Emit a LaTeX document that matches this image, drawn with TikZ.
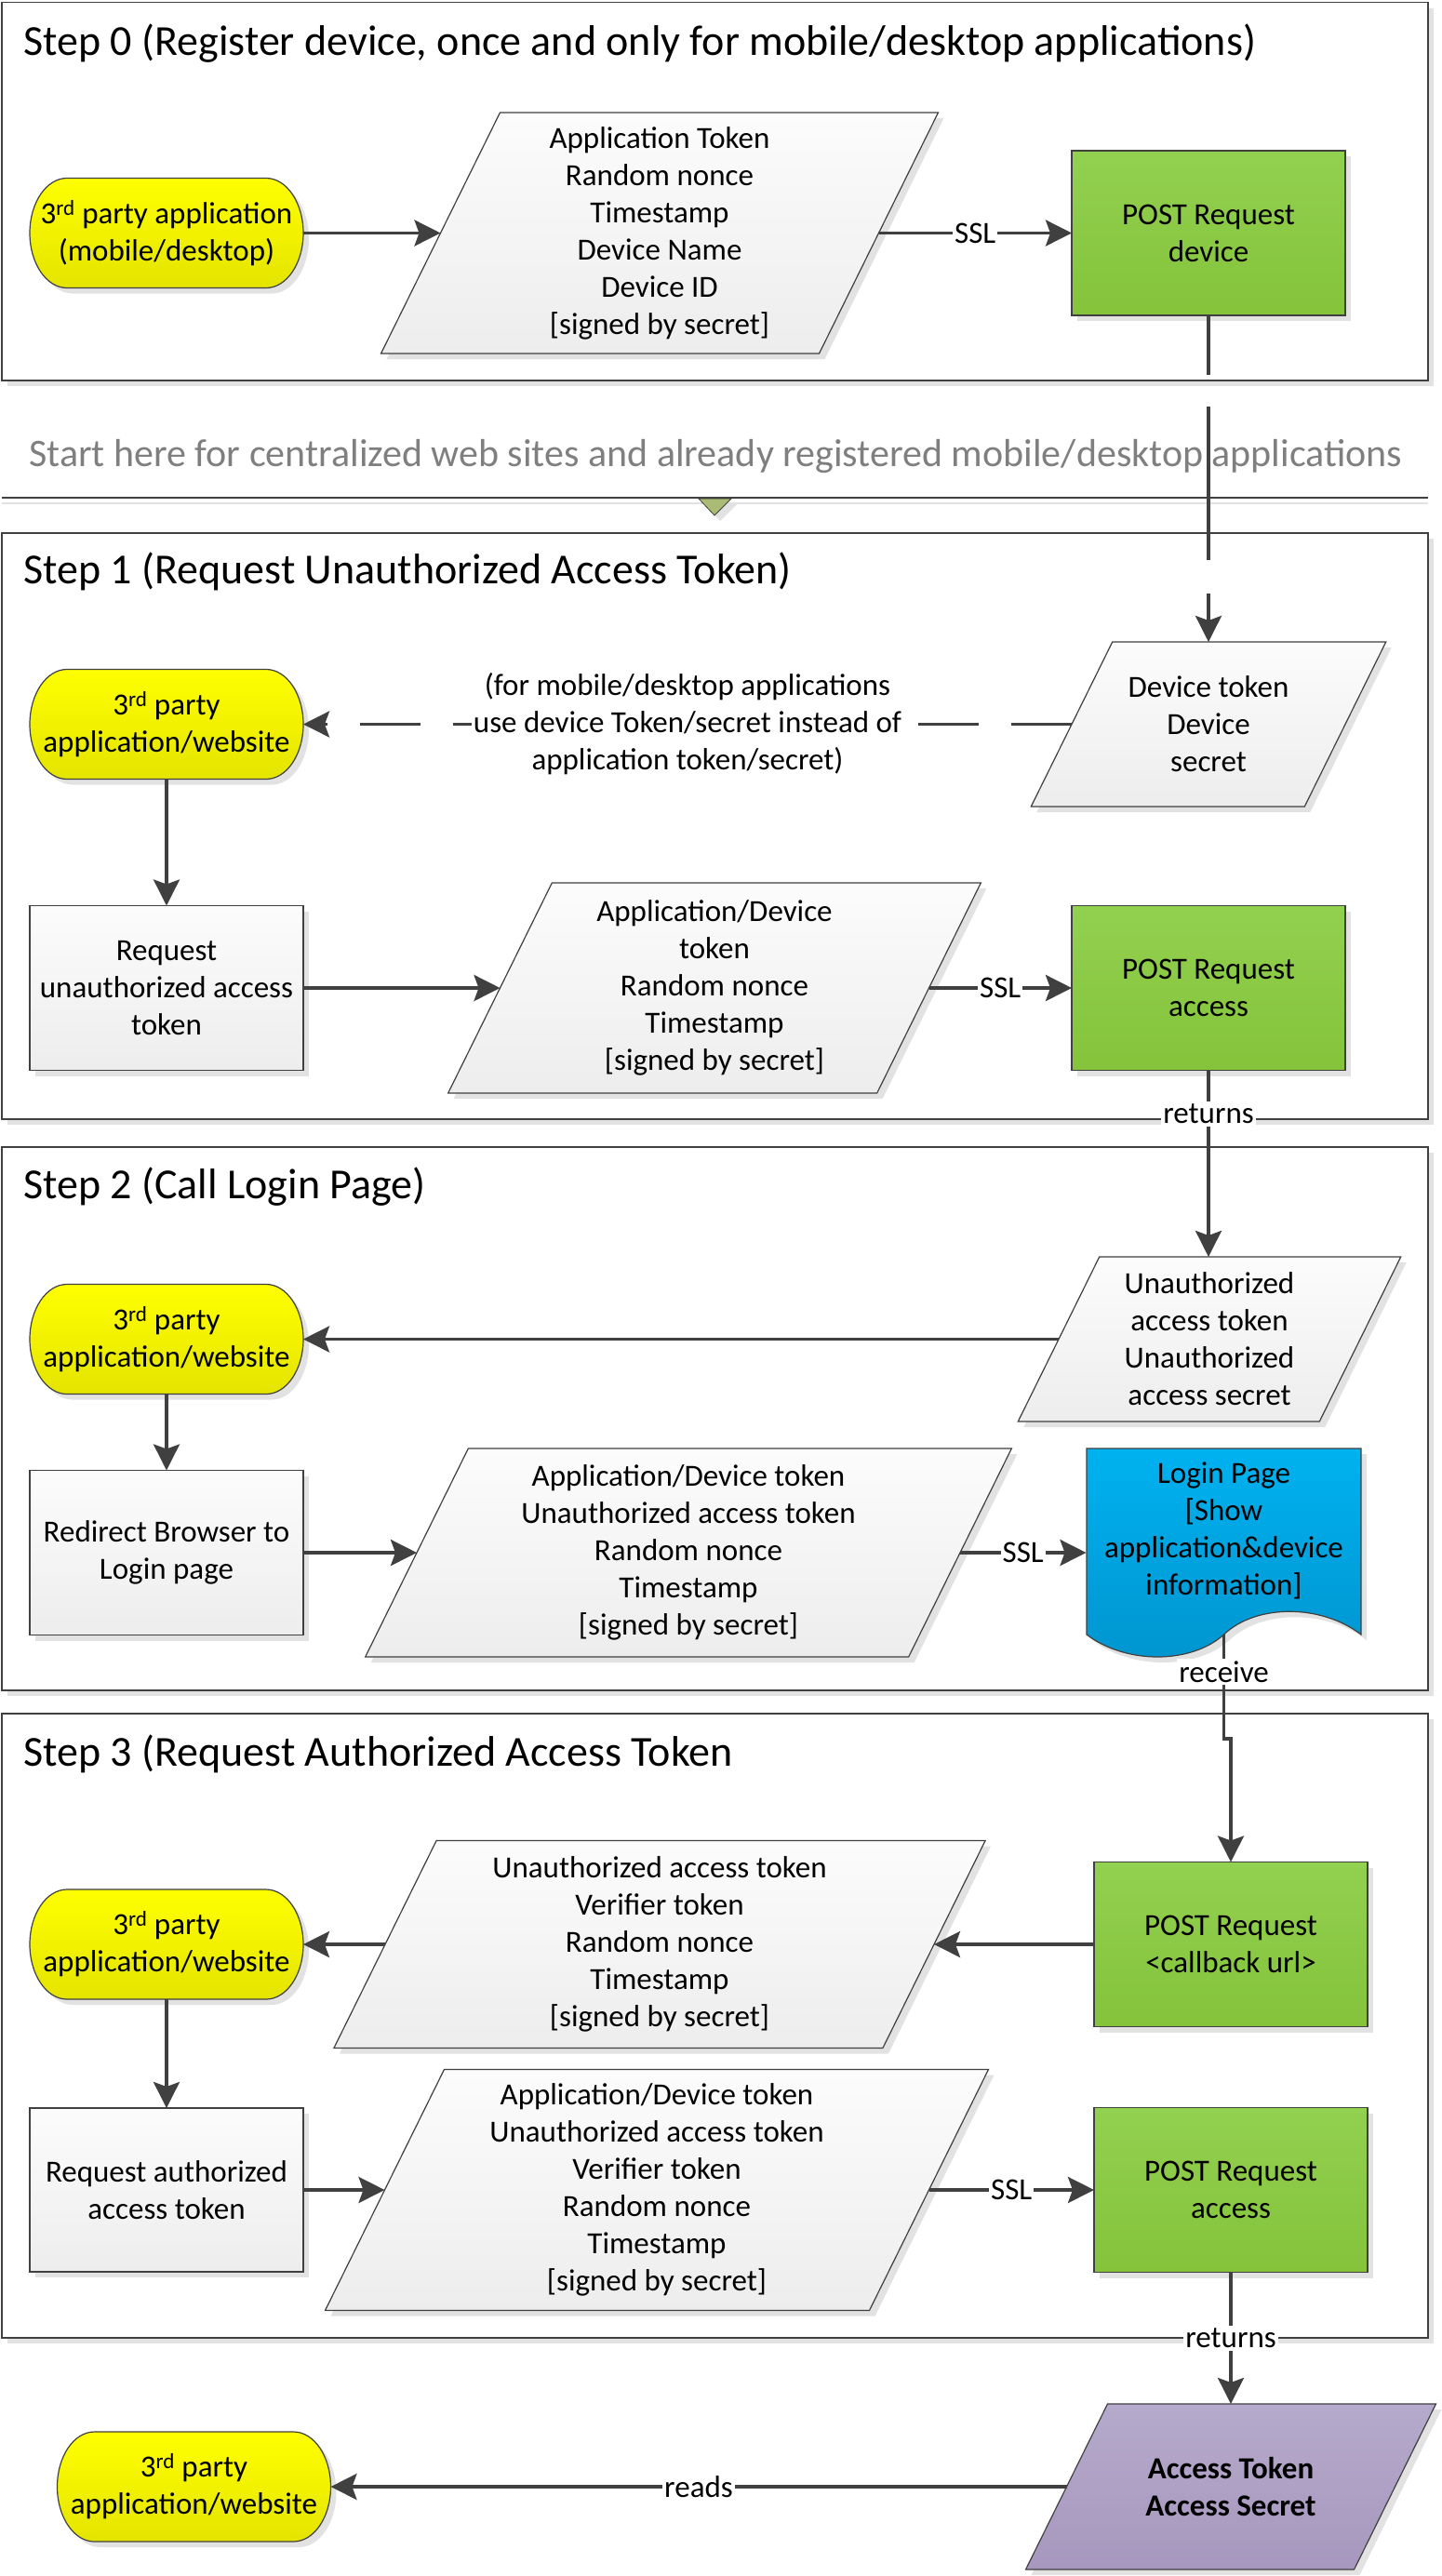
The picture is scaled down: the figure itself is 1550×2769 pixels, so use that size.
\documentclass[tikz,border=0pt]{standalone}
\usepackage{fontspec}
\setmainfont{Carlito}
\usetikzlibrary{arrows.meta, shadows}

\definecolor{linegray}{HTML}{404040}
\definecolor{shadowgray}{HTML}{E2E2E2}
\definecolor{textgray}{HTML}{7F7F7F}
\definecolor{boxtop}{HTML}{FCFCFC}
\definecolor{boxbot}{HTML}{EDEDED}
\definecolor{yeltop}{HTML}{FFFF00}
\definecolor{yelbot}{HTML}{E4E400}
\definecolor{grntop}{HTML}{92D050}
\definecolor{grnbot}{HTML}{84C33A}
\definecolor{blutop}{HTML}{00B2F0}
\definecolor{blubot}{HTML}{0095CF}
\definecolor{purtop}{HTML}{B5AACB}
\definecolor{purbot}{HTML}{A797BE}
\definecolor{tricol}{HTML}{A9BB74}

% terminator with elliptic ends, parallelogram for data
\makeatletter
\pgfdeclareshape{terminal}{%
  \inheritsavedanchors[from=rectangle]%
  \inheritanchorborder[from=rectangle]%
  \inheritanchor[from=rectangle]{center}%
  \inheritanchor[from=rectangle]{north}%
  \inheritanchor[from=rectangle]{south}%
  \inheritanchor[from=rectangle]{east}%
  \inheritanchor[from=rectangle]{west}%
  \inheritanchor[from=rectangle]{mid}%
  \inheritanchor[from=rectangle]{base}%
  \backgroundpath{%
    \southwest \edef\tm@sx{\the\pgf@x}\edef\tm@sy{\the\pgf@y}%
    \northeast \edef\tm@nx{\the\pgf@x}\edef\tm@ny{\the\pgf@y}%
    \pgfmathsetmacro\tm@r{(\tm@ny-\tm@sy)/2}%
    \pgfpathmoveto{\pgfpoint{\tm@sx+40pt}{\tm@ny}}%
    \pgfpathlineto{\pgfpoint{\tm@nx-40pt}{\tm@ny}}%
    \pgfpatharc{90}{-90}{40pt and \tm@r pt}%
    \pgfpathlineto{\pgfpoint{\tm@sx+40pt}{\tm@sy}}%
    \pgfpatharc{270}{90}{40pt and \tm@r pt}%
    \pgfpathclose
  }%
}
\pgfdeclareshape{slanted}{%
  \inheritsavedanchors[from=rectangle]%
  \inheritanchorborder[from=rectangle]%
  \inheritanchor[from=rectangle]{center}%
  \inheritanchor[from=rectangle]{north}%
  \inheritanchor[from=rectangle]{south}%
  \inheritanchor[from=rectangle]{east}%
  \inheritanchor[from=rectangle]{west}%
  \inheritanchor[from=rectangle]{mid}%
  \inheritanchor[from=rectangle]{base}%
  \backgroundpath{%
    \southwest \edef\sl@sx{\the\pgf@x}\edef\sl@sy{\the\pgf@y}%
    \northeast \edef\sl@nx{\the\pgf@x}\edef\sl@ny{\the\pgf@y}%
    \pgfmathsetmacro\sl@d{0.247*(\sl@ny-\sl@sy)}%
    \pgfpathmoveto{\pgfpoint{\sl@sx-\sl@d pt}{\sl@sy}}%
    \pgfpathlineto{\pgfpoint{\sl@nx-\sl@d pt}{\sl@sy}}%
    \pgfpathlineto{\pgfpoint{\sl@nx+\sl@d pt}{\sl@ny}}%
    \pgfpathlineto{\pgfpoint{\sl@sx+\sl@d pt}{\sl@ny}}%
    \pgfpathclose
  }%
}
\makeatother

\newcommand{\bodyfont}{\fontsize{33pt}{40pt}\selectfont}

\tikzset{
  >={Stealth[length=28pt, width=28pt, inset=5pt]},
  shd/.style={drop shadow={shadow xshift=6pt, shadow yshift=-6pt, fill=shadowgray, opacity=1}},
  frame/.style={draw=linegray, line width=1.5pt, fill=white, shd},
  title/.style={font=\fontsize{46pt}{50pt}\selectfont, anchor=base west, inner sep=0pt},
  conn/.style={draw=linegray, line width=3.5pt},
  lbl/.style={font=\bodyfont, fill=white, inner xsep=2pt, inner ysep=3pt},
  blk/.style={draw=linegray, line width=1.2pt, font=\bodyfont, align=center, inner sep=0pt, outer sep=0pt, shd},
  box/.style={blk, rectangle, top color=boxtop, bottom color=boxbot, minimum width=294pt, minimum height=177pt},
  post/.style={box, top color=grntop, bottom color=grnbot},
  term/.style={blk, shape=terminal, top color=yeltop, bottom color=yelbot, minimum width=294pt, minimum height=118pt},
  para/.style={blk, shape=slanted, top color=boxtop, bottom color=boxbot}
}

\begin{document}
\begin{tikzpicture}[x=1pt, y=1pt]
  \useasboundingbox (0,0) rectangle (1550,-2769);

  % frames of the steps
  \draw[frame] (2,-2.5) rectangle (1535,-409);
  \draw[frame] (2,-573) rectangle (1535,-1203);
  \draw[frame] (2,-1233) rectangle (1535,-1817);
  \draw[frame] (2,-1842) rectangle (1535,-2513);
  \node[title] (title0) at (25,-59) {Step 0 (Register device, once and only for mobile/desktop applications)};
  \node[title] (title1) at (25,-627) {Step 1 (Request Unauthorized Access Token)};
  \node[title] (title2) at (25,-1288) {Step 2 (Call Login Page)};
  \node[title] (title3) at (25,-1898) {Step 3 (Request Authorized Access Token};

  % start here band
  \node[title, font=\fontsize{42pt}{46pt}\selectfont, text=textgray] (start) at (31,-501) {Start here for centralized web sites and already registered mobile/desktop applications};
  \draw[shadowgray, line width=1.5pt] (2,-541) -- (1535,-541);
  \draw[linegray, line width=1.5pt] (2,-535) -- (1535,-535);
  \draw[linegray, line width=0.8pt, fill=tricol, shd] (751,-536) -- (786,-536) -- (768,-554) -- cycle;

  % step 0
  \node[term] (t0) at (179,-250.5) {3\textsuperscript{rd} party application\\(mobile/desktop)};
  \node[para, minimum width=471pt, minimum height=259pt] (p0) at (709,-250.5) {Application Token\\Random nonce\\Timestamp\\Device Name\\Device ID\\{[}signed by secret]};
  \node[post] (d0) at (1299,-250.5) {POST Request\\device};

  % step 1
  \node[para, minimum width=294pt, minimum height=177pt] (devtok) at (1299,-778.5) {Device token\\Device\\secret};
  \node[term] (t1) at (179,-778.5) {3\textsuperscript{rd} party\\application/website};
  \node[box] (r1) at (179,-1062) {Request\\unauthorized access\\token};
  \node[para, minimum width=461pt, minimum height=226pt] (p1) at (768,-1062) {Application/Device\\token\\Random nonce\\Timestamp\\{[}signed by secret]};
  \node[post] (a1) at (1299,-1062) {POST Request\\access};

  % step 2
  \node[para, minimum width=324pt, minimum height=177pt] (unauth) at (1300,-1439.5) {Unauthorized\\access token\\Unauthorized\\access secret};
  \node[term] (t2) at (179,-1439.5) {3\textsuperscript{rd} party\\application/website};
  \node[box] (r2) at (179,-1669) {Redirect Browser to\\Login page};
  \node[para, minimum width=584pt, minimum height=224pt] (p2) at (740,-1669) {Application/Device token\\Unauthorized access token\\Random nonce\\Timestamp\\{[}signed by secret]};
  \draw[linegray, line width=1.2pt, top color=blutop, bottom color=blubot, shd] (1168,-1557) -- (1463,-1557) -- (1463,-1757)
    .. controls (1420,-1724) and (1350,-1724) .. (1315.5,-1757)
    .. controls (1280,-1789) and (1210,-1789) .. (1168,-1757) -- cycle;
  \node[font=\bodyfont, align=center, minimum width=296pt, minimum height=224pt, inner sep=0pt, outer sep=0pt] (login) at (1315.5,-1645) {Login Page\\{[}Show\\application\&device\\information]};

  % step 3
  \node[post] (cb) at (1323,-2090) {POST Request\\<callback url>};
  \node[para, minimum width=590pt, minimum height=223pt] (p3) at (709,-2090) {Unauthorized access token\\Verifier token\\Random nonce\\Timestamp\\{[}signed by secret]};
  \node[term] (t3) at (179,-2090) {3\textsuperscript{rd} party\\application/website};
  \node[box, minimum height=176pt] (r3) at (179,-2354) {Request authorized\\access token};
  \node[para, minimum width=585pt, minimum height=259pt] (p4) at (706,-2354) {Application/Device token\\Unauthorized access token\\Verifier token\\Random nonce\\Timestamp\\{[}signed by secret]};
  \node[post] (a3) at (1323,-2354) {POST Request\\access};

  % result
  \node[para, top color=purtop, bottom color=purbot, minimum width=353pt, minimum height=178pt, font=\bodyfont\bfseries] (acc) at (1323,-2673) {Access Token\\Access Secret};
  \node[term] (t4) at (208.5,-2673) {3\textsuperscript{rd} party\\application/website};

  % connectors
  \draw[conn, ->] (t0.east) -- (p0.west);
  \draw[conn, ->] (p0.east) -- node[lbl] {SSL} (d0.west);
  \draw[conn, ->, dash pattern=on 64pt off 34pt on 165pt off 36pt on 400pt] (d0.south) -- (devtok.north);

  \draw[conn, ->, dash pattern=on 65pt off 35pt] (devtok.west) -- node[lbl, align=center] {(for mobile/desktop applications\\use device Token/secret instead of\\application token/secret)} (t1.east);
  \draw[conn, ->] (t1.south) -- (r1.north);
  \draw[conn, ->] (r1.east) -- (p1.west);
  \draw[conn, ->] (p1.east) -- node[lbl] {SSL} (a1.west);
  \draw[conn, ->] (a1.south) -- node[lbl, pos=0.234] {returns} (a1.south |- unauth.north);

  \draw[conn, ->] (unauth.west) -- (t2.east);
  \draw[conn, ->] (t2.south) -- (r2.north);
  \draw[conn, ->] (r2.east) -- (p2.west);
  \draw[conn, ->] (p2.east) -- node[lbl] {SSL} (p2.east -| login.west);
  \draw[conn, ->] (login.south) -- ++(0,-112) node[lbl, pos=0.357] {receive} -| (cb.north);

  \draw[conn, ->] (cb.west) -- (p3.east);
  \draw[conn, ->] (p3.west) -- (t3.east);
  \draw[conn, ->] (t3.south) -- (r3.north);
  \draw[conn, ->] (r3.east) -- (p4.west);
  \draw[conn, ->] (p4.east) -- node[lbl] {SSL} (a3.west);
  \draw[conn, ->] (a3.south) -- node[lbl] {returns} (acc.north);
  \draw[conn, ->] (acc.west) -- node[lbl] {reads} (t4.east);
\end{tikzpicture}
\end{document}
